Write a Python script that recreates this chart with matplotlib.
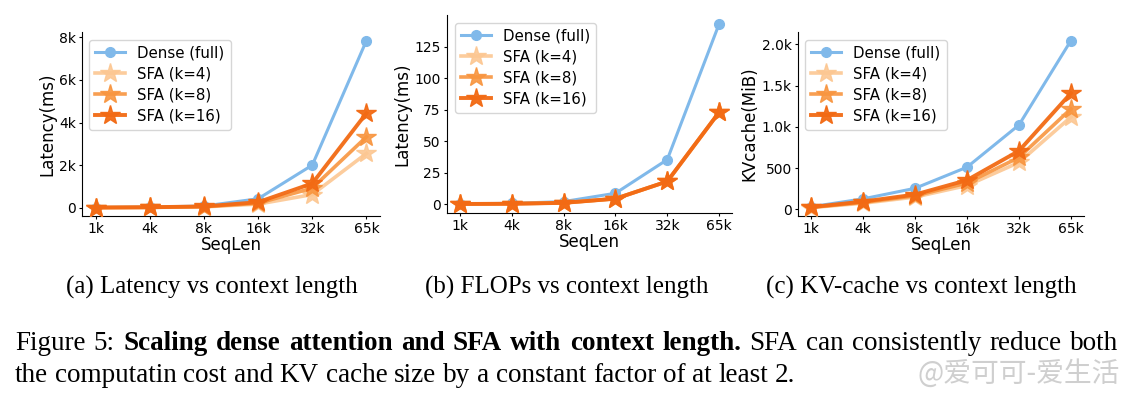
import matplotlib
matplotlib.use("Agg")
import matplotlib.pyplot as plt
from matplotlib.ticker import FuncFormatter

seqlen = ["1k", "4k", "8k", "16k", "32k", "65k"]

# (a) latency, ms
lat_dense = [10, 30, 80, 420, 2000, 7850]
lat_k4 = [5, 15, 40, 170, 620, 2550]
lat_k8 = [6, 18, 50, 210, 920, 3330]
lat_k16 = [8, 22, 60, 260, 1140, 4440]

# (b) flops panel (y label says latency)
flops_dense = [0.5, 0.8, 2.2, 8.8, 35.5, 143]
flops_k4 = [0.3, 0.5, 1.2, 4.5, 18.2, 73]
flops_k8 = [0.3, 0.5, 1.2, 4.5, 18.2, 73]
flops_k16 = [0.3, 0.5, 1.2, 4.5, 18.2, 73]

# (c) kv cache, MiB
kv_dense = [32, 128, 256, 512, 1024, 2048]
kv_k4 = [22, 75, 150, 290, 570, 1120]
kv_k8 = [25, 85, 165, 320, 630, 1220]
kv_k16 = [28, 95, 180, 355, 710, 1410]

labels = ["Dense (full)", "SFA (k=4)", "SFA (k=8)", "SFA (k=16)"]
subcaps = ["(a) Latency vs context length",
           "(b) FLOPs vs context length",
           "(c) KV-cache vs context length"]
c_dense = "#80b9ea"
c_k4 = "#fcc792"
c_k8 = "#f8953f"
c_k16 = "#f26a14"

plt.rcParams["font.family"] = ["DejaVu Sans"]

fig = plt.figure(figsize=(11.29, 3.97), dpi=100)
W, H = 1129, 397


def fmt_k(v, pos):
    if v == 0:
        return "0"
    return f"{v / 1000:g}k"


def fmt_kv(v, pos):
    if v < 1000:
        return f"{int(v)}"
    return f"{v / 1000:.1f}k"


def draw_panel(rect, dense, k4, k8, k16, ylabel, yticks, formatter=None):
    ax = fig.add_axes(rect)
    x = range(len(seqlen))
    ax.plot(x, dense, color=c_dense, marker="o", lw=2.2, ms=7, label=labels[0], zorder=2)
    ax.plot(x, k4, color=c_k4, marker="*", lw=2.6, ms=15, alpha=0.9, label=labels[1], zorder=3)
    ax.plot(x, k8, color=c_k8, marker="*", lw=2.6, ms=15, alpha=0.9, label=labels[2], zorder=4)
    ax.plot(x, k16, color=c_k16, marker="*", lw=2.8, ms=15, alpha=0.95, label=labels[3], zorder=5)
    ax.set_xticks(list(x))
    ax.set_xticklabels(seqlen, fontsize=10)
    ax.set_yticks(yticks)
    if formatter is not None:
        ax.yaxis.set_major_formatter(FuncFormatter(formatter))
    ax.tick_params(axis="y", labelsize=10)
    ax.tick_params(length=2.5, pad=2)
    ax.set_xlabel("SeqLen", fontsize=12, labelpad=0)
    ax.set_ylabel(ylabel, fontsize=12, labelpad=2)
    ax.spines["top"].set_visible(False)
    ax.spines["right"].set_visible(False)
    ax.legend(loc="upper left", fontsize=10.8, handlelength=2.0, borderpad=0.4,
              labelspacing=0.4)
    return ax


draw_panel([0.0726, 0.456, 0.264, 0.463], lat_dense, lat_k4, lat_k8, lat_k16,
           "Latency(ms)", [0, 2000, 4000, 6000, 8000], fmt_k)
draw_panel([0.396, 0.4635, 0.2524, 0.4987], flops_dense, flops_k4, flops_k8, flops_k16,
           "Latency(ms)", [0, 25, 50, 75, 100, 125])
draw_panel([0.7068, 0.456, 0.2533, 0.463], kv_dense, kv_k4, kv_k8, kv_k16,
           "KVcache(MiB)", [0, 500, 1000, 1500, 2000], fmt_kv)

serif = ["Liberation Serif", "DejaVu Serif"]
for cx, s in zip([212, 567, 921], subcaps):
    fig.text(cx / W, 1 - 287 / H, s, ha="center", va="center", fontsize=18, family=serif)

renderer = fig.canvas.get_renderer()
cap_size = 19.5


def put_words(x0, y_px, words, x1=None):
    # words: list of (text, weight); justified between x0 and x1 if x1 given
    texts, widths = [], []
    for s, w in words:
        t = fig.text(0, 1 - y_px / H, s, ha="left", va="center",
                     fontsize=cap_size, family=serif, weight=w)
        texts.append(t)
        widths.append(t.get_window_extent(renderer).width)
    sp = fig.text(0, 0, "a a", fontsize=cap_size, family=serif)
    sp_w = sp.get_window_extent(renderer).width
    sp2 = fig.text(0, 0, "aa", fontsize=cap_size, family=serif)
    sp_w -= sp2.get_window_extent(renderer).width
    sp.remove()
    sp2.remove()
    gap = sp_w
    if x1 is not None and len(words) > 1:
        gap = (x1 - x0 - sum(widths)) / (len(words) - 1)
    x = x0
    for t, wd in zip(texts, widths):
        t.set_x(x / W)
        x += wd + gap


line1 = [(w, "normal") for w in "Figure 5:".split()]
line1 += [(w, "bold") for w in "Scaling dense attention and SFA with context length.".split()]
line1 += [(w, "normal") for w in "SFA can consistently reduce both".split()]
line2 = [(w, "normal") for w in
         "the computatin cost and KV cache size by a constant factor of at least 2.".split()]
put_words(15, 344, line1, 1118)
put_words(15, 375, line2)

fig.text(1120 / W, 1 - 374 / H, "@爱可可-爱生活", ha="right", va="center",
         fontsize=20, color="#cfcfcf", family=["Noto Sans CJK SC", "DejaVu Sans"])

fig.savefig("out.png", dpi=100)
